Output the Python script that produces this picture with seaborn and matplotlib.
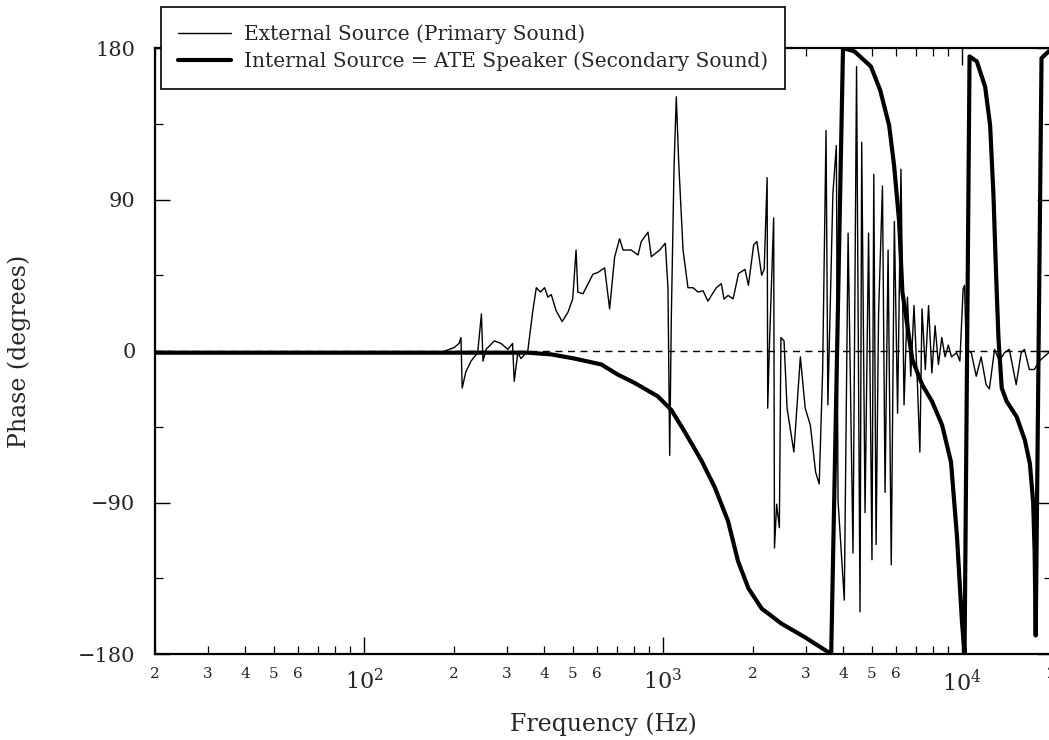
import numpy as np
import pandas as pd
import matplotlib
matplotlib.use('Agg')
import matplotlib.pyplot as plt
import matplotlib.ticker as mticker
from matplotlib.lines import Line2D
import seaborn as sns

# Internal source (ATE speaker) phase
internal_freq = [20, 50, 100, 200, 300, 353, 423, 506, 622, 706, 804, 962, 1066, 1182,
                 1344, 1490, 1650, 1783, 1931, 2138, 2492, 2981, 3652, 4000, 4367, 4960,
                 5325, 5706, 5930, 6162, 6320, 6820, 7360, 7940, 8580, 9190, 9620, 9990,
                 10200, 10600, 11210, 11950, 12420, 12740, 13000, 13240, 13580, 14110,
                 15230, 16230, 16870, 17300, 17500, 17640, 18450, 19500]
internal_phase = [-1, -1, -1, -1, -1, -1, -2, -4.5, -8, -14, -19, -27, -35, -48,
                  -65, -81, -101, -125, -141, -153, -162, -170, -180, 180, 178, 169,
                  155, 134, 110, 77, 35, -5, -20, -30, -44, -66, -110, -160,
                  -180, 175, 172, 157, 134, 93, 46, 8, -22, -30,
                  -39, -53, -67, -90, -120, -169, 174, 178]

# External source (primary sound) phase
external_freq = [20, 100, 180, 200, 208, 211, 213, 219, 228, 240, 247, 250, 256, 273, 287,
                 303, 314, 318, 327, 335, 353, 367, 377, 389, 402, 412, 423, 439, 460, 481,
                 499, 512, 519, 540, 583, 606, 638, 663, 689, 716, 735, 783, 825, 846, 891,
                 914, 975, 1018, 1039, 1053, 1066, 1089, 1108, 1128, 1167, 1212, 1260, 1310,
                 1361, 1414, 1452, 1508, 1567, 1600, 1650, 1716, 1789, 1880, 1931, 2010,
                 2061, 2138, 2180, 2230, 2240, 2270, 2345, 2360, 2400, 2450, 2480, 2540,
                 2600, 2740, 2880, 2990, 3110, 3240, 3330, 3420, 3510, 3560, 3700, 3800,
                 3850, 4040, 4160, 4320, 4440, 4560, 4620, 4740, 4870, 5000, 5070, 5160,
                 5260, 5420, 5530, 5660, 5800, 5940, 6090, 6250, 6400, 6570, 6740, 6910,
                 7090, 7230, 7350, 7540, 7730, 7930, 8130, 8340, 8560, 8780, 9000, 9230,
                 9590, 9840, 10090, 10200, 10330, 10740, 11160, 11590, 12040, 12350, 12850,
                 13350, 13870, 14400, 15180, 15770, 16180, 16800, 17450, 18130, 19500]
external_phase = [-1, -1, -1, 2, 4.5, 8, -22, -12.5, -6, -1, 22, -6, 1, 6, 4.5,
                  1, 4.5, -18, -1, -4.5, 0, 24, 37.6, 35, 37.6, 32, 33.5, 24, 17.5, 23,
                  31, 60, 35, 34, 45.6, 46.7, 49.4, 25, 55.8, 66.7, 60, 60, 57, 65, 70.6,
                  56, 60, 64, 37.6, -62, 19, 110, 151, 113, 60, 37.6, 37.6, 35,
                  35.8, 29.6, 33, 37.6, 40, 30.8, 33, 31, 46, 48.5, 39, 63,
                  65, 45, 48.5, 103, -34, 3.5, 79, -117, -91, -105, 8, 6,
                  -34, -60, -3.5, -34, -44, -72, -79, -11, 131, -32, 93.5, 122,
                  -89, -148, 70, -120, 169, -155, 124, -96, 70, -124, 105, -115,
                  22, 98, -84, 60, -127, 77, -37, 108, -32, 32, -15, 27,
                  -18, -60, 25, -11, 27, -13, 15, -8, 8, -3.5, 3.5, -3.5,
                  -1, -6, 37, 39, 1, -1, -15, -3.5, -20, -22.5, 1,
                  -6, -1, 1, -20, -1, 1, -11, -11, -6, -1]

legend_labels = ['External Source (Primary Sound)',
                 'Internal Source = ATE Speaker (Secondary Sound)']
y_ticks = [-180, -90, 0, 90, 180]

sns.set_theme(style='ticks')
plt.rcParams['font.family'] = ['DejaVu Serif']
plt.rcParams['mathtext.fontset'] = 'dejavuserif'

fig = plt.figure(figsize=(10.49, 7.40), dpi=100)
ax = fig.add_axes([155 / 1049, 86 / 740, (1052 - 155) / 1049, (654 - 48) / 740])

ext = pd.DataFrame({'freq': external_freq, 'phase': external_phase})
intl = pd.DataFrame({'freq': internal_freq, 'phase': internal_phase})

ax.axhline(0, color='black', lw=1.0, ls=(0, (5, 4)), zorder=1)
sns.lineplot(data=ext, x='freq', y='phase', ax=ax, color='black', lw=1.0,
             estimator=None, sort=False, zorder=2)
sns.lineplot(data=intl, x='freq', y='phase', ax=ax, color='black', lw=3.0,
             estimator=None, sort=False, zorder=3)

ax.set_xscale('log')
ax.set_xlim(20, 20000)
ax.set_ylim(-180, 180)

# x ticks: decades as 10^n, minor 2..6 labelled
ax.xaxis.set_major_locator(mticker.FixedLocator([100, 1000, 10000]))
ax.xaxis.set_major_formatter(mticker.FixedFormatter([r'$10^2$', r'$10^3$', r'$10^4$']))
minor = [m * 10 ** d for d in range(1, 5) for m in range(2, 10) if 20 <= m * 10 ** d <= 20000]
ax.xaxis.set_minor_locator(mticker.FixedLocator(minor))


def minor_label(v, pos):
    m = int(round(v / 10 ** np.floor(np.log10(v))))
    return str(m) if m in (2, 3, 4, 5, 6) else ''


ax.xaxis.set_minor_formatter(mticker.FuncFormatter(minor_label))

ax.set_yticks(y_ticks)
ax.set_yticklabels([str(t).replace('-', '\u2212') for t in y_ticks])
ax.yaxis.set_minor_locator(mticker.MultipleLocator(45))

ax.tick_params(which='both', direction='in', top=True, right=True, color='black')
ax.tick_params(axis='x', which='major', length=12, width=1.0, labelsize=16, pad=11)
ax.tick_params(axis='x', which='minor', length=6, width=0.9, labelsize=11, pad=9)
ax.tick_params(axis='y', which='major', length=11, width=1.0, labelsize=15, pad=14)
ax.tick_params(axis='y', which='minor', length=6, width=0.9)

for s in ax.spines.values():
    s.set_color('black')
    s.set_linewidth(1.6)

ax.set_xlabel('Frequency (Hz)', fontsize=17, labelpad=12)
ax.set_ylabel('Phase (degrees)', fontsize=17, labelpad=34)

handles = [Line2D([], [], color='black', lw=1.0), Line2D([], [], color='black', lw=3.0)]
leg = ax.legend(handles, legend_labels, loc='upper left',
                bbox_to_anchor=(161 / 1049, 1 - 7 / 740), bbox_transform=fig.transFigure,
                fontsize=14.5, handlelength=2.65, handletextpad=0.6, borderaxespad=0,
                borderpad=0.85, labelspacing=0.4, frameon=True, fancybox=False,
                framealpha=1, edgecolor='black')
leg.get_frame().set_linewidth(1.2)

fig.savefig('out.png', dpi=100, facecolor='white')
